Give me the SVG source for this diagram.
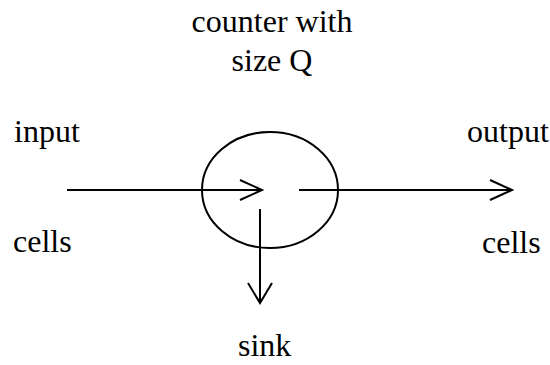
<svg xmlns="http://www.w3.org/2000/svg" width="550" height="365" viewBox="0 0 550 365">
  <style>
    text { font-family: 'Liberation Serif', 'Times New Roman', 'DejaVu Serif', serif; font-size: 32px; fill: #000; }
    .line { stroke: #000; stroke-width: 2; fill: none; }
  </style>
  <rect width="550" height="365" fill="#fff"/>
  <g id="counter">
    <ellipse cx="270" cy="190" rx="68" ry="58" class="line"/>
    <text x="272" y="32" text-anchor="middle">counter with</text>
    <text x="272" y="71" text-anchor="middle">size Q</text>
  </g>
  <g id="input">
    <text x="14" y="142">input</text>
    <text x="13" y="252">cells</text>
  </g>
  <g id="output">
    <text x="467" y="142">output</text>
    <text x="482" y="253">cells</text>
  </g>
  <g id="sink">
    <text x="238" y="356">sink</text>
  </g>
  <g id="connectors">
    <path class="line" d="M67 190 H262 M240 180 L262 190 L240 200"/>
    <path class="line" d="M299 190 H512 M490 180 L512 190 L490 200"/>
    <path class="line" d="M260 209 V303 M248 283 L260 303 L272 283"/>
  </g>
</svg>
